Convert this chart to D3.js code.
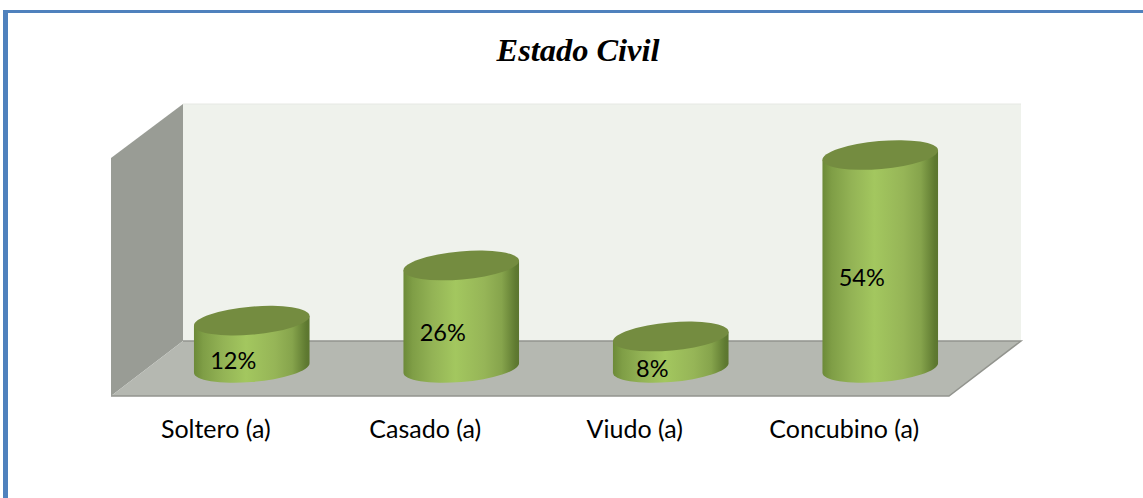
<!DOCTYPE html>
<html>
<head>
<meta charset="utf-8">
<script src="https://cdn.jsdelivr.net/npm/d3@7/dist/d3.min.js"></script>
<style>
  html, body { margin: 0; padding: 0; background: #fff; }
  svg { display: block; }
</style>
</head>
<body>
<svg width="1143" height="498"></svg>
<script>
const categories = ["Soltero (a)", "Casado (a)", "Viudo (a)", "Concubino (a)"];
const percents = [12, 26, 8, 54];
const chartTitle = "Estado Civil";

const svg = d3.select("svg");

// page border: only top and left are in the picture
svg.append("rect").attr("x", 3).attr("y", 10).attr("width", 1140).attr("height", 3).attr("fill", "#4f81bd");
svg.append("rect").attr("x", 3).attr("y", 10).attr("width", 5).attr("height", 488).attr("fill", "#4f81bd");

svg.append("text")
  .attr("x", 578)
  .attr("y", 61)
  .attr("text-anchor", "middle")
  .attr("font-family", "Liberation Serif")
  .attr("font-weight", "bold")
  .attr("font-style", "italic")
  .attr("font-size", 32.4)
  .text(chartTitle);

// ** 3D BOX ** //
const box = { left: 111, right: 949, front: 396, back: 341, dx: 72, top: 104 };
const depthTop = 158;

const defs = svg.append("defs");

const addGradient = (id, stops) => {
  const g = defs.append("linearGradient").attr("id", id);
  stops.forEach(s => g.append("stop").attr("offset", s[0]).attr("stop-color", s[1]));
};
addGradient("barBody", [
  [0, "#6c8a38"],
  [0.08, "#7f9e46"],
  [0.25, "#93b355"],
  [0.45, "#a3c75f"],
  [0.7, "#96b557"],
  [0.85, "#86a44c"],
  [0.97, "#5f7a31"],
  [1, "#5b752f"]
]);

svg.append("polygon")
  .attr("points", [[box.left + box.dx, box.top], [box.right + box.dx, box.top], [box.right + box.dx, box.back], [box.left + box.dx, box.back]].join(" "))
  .attr("fill", "#eff2ec");
svg.append("line")
  .attr("x1", box.left + box.dx).attr("x2", box.right + box.dx)
  .attr("y1", box.top).attr("y2", box.top)
  .attr("stroke", "#e6e8e3");

svg.append("polygon")
  .attr("points", [[box.left, depthTop], [box.left + box.dx, box.top], [box.left + box.dx, box.back], [box.left, box.front]].join(" "))
  .attr("fill", "#999c95");

svg.append("polygon")
  .attr("points", [[box.left, box.front], [box.left + box.dx, box.back], [box.right + box.dx, box.back], [box.right, box.front]].join(" "))
  .attr("fill", "#b5b8b1");
svg.append("polyline")
  .attr("points", [[box.left + box.dx, box.back], [box.right + box.dx, box.back], [box.right, box.front], [box.left, box.front]].join(" "))
  .attr("fill", "none")
  .attr("stroke", "#92948e")
  .attr("stroke-width", 1.5);

// ** SCALES ** //
const xFront = d3.scaleBand().domain(categories).range([box.left, box.right]);
const xMid = d3.scaleBand().domain(categories).range([box.left + box.dx / 2, box.right + box.dx / 2]);
const y = d3.scaleLinear().domain([0, 54]).range([368, 155]);

// tilted ellipse shared by all cylinders
const rx = 58;
const ry = 14;
const tilt = -5;
const rad = tilt * Math.PI / 180;
const halfW = Math.sqrt(rx * rx * Math.cos(rad) ** 2 + ry * ry * Math.sin(rad) ** 2);
const edgeDy = (rx * rx - ry * ry) * Math.sin(rad) * Math.cos(rad) / halfW;

const bodyPath = d => {
  const cx = xMid(d.name) + xMid.bandwidth() / 2;
  const yTop = y(d.value);
  const yBase = y(0);
  const path = d3.path();
  path.moveTo(cx - halfW, yTop - edgeDy);
  path.lineTo(cx - halfW, yBase - edgeDy);
  return path.toString()
    + `A${rx},${ry} ${tilt} 0 0 ${cx + halfW},${yBase + edgeDy}`
    + `L${cx + halfW},${yTop + edgeDy}Z`;
};

const rows = categories.map((name, i) => ({ name, value: percents[i] }));

const bars = svg.append("g").attr("class", "bars")
  .selectAll("g")
  .data(rows)
  .enter()
  .append("g");

bars.append("path")
  .attr("d", bodyPath)
  .attr("fill", "url(#barBody)");

bars.append("ellipse")
  .attr("rx", rx)
  .attr("ry", ry)
  .attr("transform", d => `translate(${xMid(d.name) + xMid.bandwidth() / 2},${y(d.value)}) rotate(${tilt})`)
  .attr("fill", "#748c40");

bars.append("text")
  .attr("x", d => xFront(d.name) + xFront.bandwidth() / 2 + 17.5)
  .attr("y", d => (y(d.value) + y(0)) / 2 + 24.5)
  .attr("text-anchor", "middle")
  .attr("font-family", "Lato")
  .attr("font-size", 23.5)
  .attr("fill", "#000")
  .text(d => d.value + "%");

// ** AXIS ** //
const axis = svg.append("g")
  .attr("transform", `translate(0,${box.front})`)
  .call(d3.axisBottom(xFront).tickSize(0).tickPadding(24));
axis.select(".domain").remove();
axis.selectAll("text")
  .attr("font-family", "Lato")
  .attr("font-size", 25)
  .attr("fill", "#000");
</script>
</body>
</html>
